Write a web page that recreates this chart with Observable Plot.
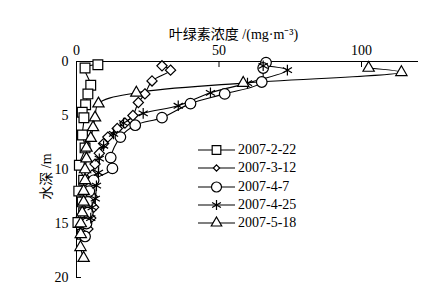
<!DOCTYPE html>
<html><head><meta charset="utf-8">
<script src="https://cdn.jsdelivr.net/npm/d3@7"></script>
<script src="https://cdn.jsdelivr.net/npm/@observablehq/plot@0.6"></script>
<style>
body{margin:0;background:#fff;}
#wrap{position:relative;width:434px;height:287px;font-family:"Liberation Serif","Noto Sans CJK SC",serif;}
#wrap svg.plot{position:absolute;left:0;top:0;}
#legend{position:absolute;left:198px;top:141px;}
.row{display:flex;align-items:center;height:18.3px;font-size:14px;color:#000;}
.row svg{display:block;margin-right:2px;}
</style></head><body><div id="wrap"></div>
<script>
const seriesNames = ["2007-2-22","2007-3-12","2007-4-7","2007-4-25","2007-5-18"];
const symbolNames = ["square2","diamond2","circle","asterisk","triangle2"];
const symbolR = [6.2, 4.6, 5.3, 5.0, 5.4];
const legendR = [5.5, 2.8, 5, 4.8, 5];

const depth1 = [0.3, 0.6, 2.2, 3.0, 4.0, 4.7, 5.2, 6.8, 8.0, 9.6, 11.0, 12.0, 13.0, 14.0, 14.9, 16.0];
const chl1   = [7.5, 3.0, 5.0, 4.0, 3.2, 2.0, 2.6, 2.1, 3.0, 1.0, 2.5, 0.8, 2.0, 2.5, 0.5, 2.0];

const depth2 = [0.4, 0.8, 1.8, 3.0, 3.8, 5.0, 5.7, 6.2, 7.0, 7.6, 8.5, 9.5, 10.5, 11.5, 12.5, 13.5, 14.5, 15.5];
const chl2   = [30, 33, 26.5, 24, 21.7, 19.8, 17, 14.3, 11, 9.5, 8, 6.5, 5.5, 5, 5.5, 6, 5, 4];

const depth3 = [0.1, 0.6, 1.9, 3.0, 3.9, 5.2, 5.9, 7.0, 8.9, 9.9, 11.0, 12.0, 13.0, 14.0, 15.0, 16.2];
const chl3   = [66.5, 65.5, 65, 52, 40, 30, 20.6, 15.4, 12, 12.6, 6, 4.5, 4, 4, 3.5, 3];

const depth4 = [0.4, 0.8, 2.0, 2.9, 4.1, 4.8, 5.7, 6.7, 7.8, 9.0, 10.3, 11.5, 12.7, 13.5, 14.5];
const chl4   = [65.5, 74, 60, 47, 35.7, 23.4, 16.5, 13, 9.5, 8, 7.7, 7, 6.6, 5.5, 5];

const depth5 = [0.6, 1.0, 2.0, 2.9, 3.9, 5.2, 6.1, 7.1, 8.0, 9.0, 10.0, 11.0, 12.0, 13.0, 14.0, 15.0, 16.0, 17.2, 18.2];
const chl5   = [102.5, 114, 58.5, 21, 7.7, 6.5, 5.8, 5, 3.5, 3.5, 3, 3, 2.5, 2.5, 2, 1.5, 1.5, 1.4, 2.5];

const xTicks = [0, 50, 100];
const yTicks = [0, 5, 10, 15, 20];
const xLabel = "叶绿素浓度 /(mg·m⁻³)";
const yLabel = "水深 /m";

const depths = [depth1, depth2, depth3, depth4, depth5];
const chls = [chl1, chl2, chl3, chl4, chl5];
const rows = [];
seriesNames.forEach((s, i) => depths[i].forEach((d, j) => rows.push({series: s, depth: d, chl: chls[i][j]})));

const font = '"Liberation Serif","Noto Sans CJK SC",serif';
const plot = Plot.plot({
  width: 434, height: 287,
  marginTop: 61, marginLeft: 76, marginRight: 16, marginBottom: 10,
  style: {fontFamily: font, fontSize: "14px", background: "#fff", color: "#000"},
  x: {domain: [0, 120]},
  y: {domain: [0, 20], reverse: true},
  marks: [
    Plot.ruleY([0], {stroke: "#000", strokeWidth: 1}),
    Plot.ruleX([0], {stroke: "#000", strokeWidth: 1}),
    Plot.axisX({anchor: "top", ticks: xTicks, tickSize: -5, tickPadding: 0, stroke: "#000",
      label: xLabel, labelAnchor: "center", labelArrow: "none", labelOffset: 32, fontSize: 14}),
    Plot.axisY({anchor: "left", ticks: yTicks, tickSize: -5, tickPadding: 13, stroke: "#000",
      label: yLabel, labelAnchor: "center", labelArrow: "none", labelOffset: 33, fontSize: 14}),
    Plot.line(rows, {x: "chl", y: "depth", z: "series", curve: "catmull-rom", stroke: "#000", strokeWidth: 1.1}),
    ...seriesNames.map((s, i) => Plot.dot(rows.filter(r => r.series === s), {
      x: "chl", y: "depth", symbol: () => symbolNames[i], r: symbolR[i],
      stroke: "#000", fill: symbolNames[i] === "asterisk" ? "none" : "#fff", strokeWidth: 1.2
    }))
  ]
});
const wrap = document.getElementById("wrap");
wrap.appendChild(plot);
// nudge tick labels, titles to the reference's positions
const xt = plot.querySelector('g[aria-label="x-axis tick label"]');
if (xt) xt.setAttribute("transform", (xt.getAttribute("transform") || "") + " translate(0,-12)");
const xl = plot.querySelector('g[aria-label="x-axis label"]');
if (xl) xl.setAttribute("transform", (xl.getAttribute("transform") || "") + " translate(-14,0)");
const yl = plot.querySelector('g[aria-label="y-axis label"]');
if (yl) yl.setAttribute("transform", (yl.getAttribute("transform") || "") + " translate(-2,7)");

const symMap = {square2: d3.symbolSquare2, diamond2: d3.symbolDiamond2, circle: d3.symbolCircle, asterisk: d3.symbolAsterisk, triangle2: d3.symbolTriangle2};
const legend = document.createElement("div");
legend.id = "legend";
seriesNames.forEach((s, i) => {
  const row = document.createElement("div");
  row.className = "row";
  const svg = d3.create("svg").attr("width", 38).attr("height", 18);
  svg.append("line").attr("x1", 0).attr("x2", 37).attr("y1", 9).attr("y2", 9).attr("stroke", "#000").attr("stroke-width", 1.1);
  svg.append("path").attr("transform", "translate(18.5,9)")
    .attr("d", d3.symbol(symMap[symbolNames[i]], Math.PI * legendR[i] * legendR[i])())
    .attr("fill", symbolNames[i] === "asterisk" ? "none" : "#fff").attr("stroke", "#000").attr("stroke-width", 1.2);
  row.appendChild(svg.node());
  const t = document.createElement("span");
  t.textContent = s;
  row.appendChild(t);
  legend.appendChild(row);
});
wrap.appendChild(legend);
</script></body></html>
